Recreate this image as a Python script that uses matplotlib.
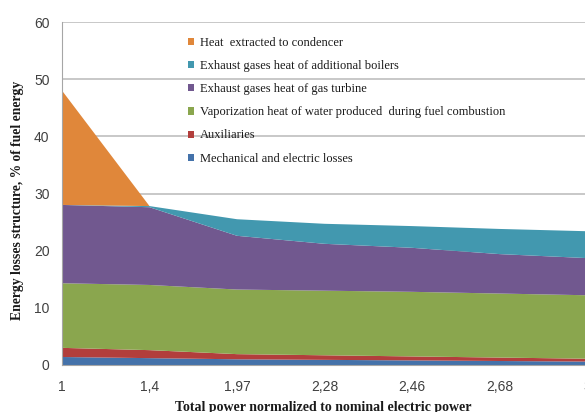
import matplotlib
matplotlib.use("Agg")
import matplotlib.pyplot as plt
from matplotlib.patches import Patch
import numpy as np

categories = ["1", "1,4", "1,97", "2,28", "2,46", "2,68", "3"]
mechanical = [1.4, 1.2, 1.0, 0.9, 0.8, 0.7, 0.6]
auxiliaries = [1.6, 1.4, 0.9, 0.8, 0.7, 0.6, 0.5]
vaporization = [11.3, 11.4, 11.3, 11.3, 11.3, 11.2, 11.1]
gas_turbine = [13.7, 13.6, 9.4, 8.2, 7.7, 6.9, 6.5]
boilers = [0.0, 0.2, 2.9, 3.5, 3.8, 4.4, 4.7]
condenser = [20.0, 0.0, 0.0, 0.0, 0.0, 0.0, 0.0]

labels = ["Mechanical and electric losses", "Auxiliaries",
          "Vaporization heat of water produced  during fuel combustion",
          "Exhaust gases heat of gas turbine",
          "Exhaust gases heat of additional boilers",
          "Heat  extracted to condencer"]
colors = ["#4472AA", "#B23E3C", "#8AA64E", "#71588F", "#4298AF", "#E0873A"]

fig = plt.figure(figsize=(5.85, 4.12), dpi=100)
ax = fig.add_axes([62/585, 47/412, (587-62)/585, (365-22)/412])

x = np.arange(len(categories))
ax.stackplot(x, mechanical, auxiliaries, vaporization, gas_turbine, boilers, condenser,
             colors=colors, zorder=2, linewidth=0)

ax.set_xlim(0, 6)
ax.set_ylim(0, 60)
ax.set_yticks(range(0, 61, 10))
ax.set_xticks(x)
ax.set_xticklabels(categories)
ax.yaxis.grid(True, color="#BFBFBF", linewidth=1.2, zorder=0)
ax.set_axisbelow(True)
for s in ["top", "right"]:
    ax.spines[s].set_visible(False)
ax.spines["left"].set_color("#A6A6A6")
ax.spines["bottom"].set_color("#A6A6A6")
ax.tick_params(length=0, labelsize=10, colors="#404040")
ax.tick_params(axis="x", pad=11)
ax.tick_params(axis="y", pad=9)
for t in ax.get_xticklabels() + ax.get_yticklabels():
    t.set_fontfamily("Liberation Sans")

ax.set_xlabel("Total power normalized to nominal electric power", family="Liberation Serif",
              fontweight="bold", fontsize=10, color="#1a1a1a", va="center")
ax.set_ylabel("Energy losses structure, % of fuel energy", family="Liberation Serif",
              fontweight="bold", fontsize=9.8, color="#1a1a1a", va="center")
ax.xaxis.set_label_coords((323-62)/525, (365-407)/343)
ax.yaxis.set_label_coords((18-62)/525, (365-200)/343)

handles = [Patch(facecolor=c, edgecolor="none") for c in colors[::-1]]
leg = ax.legend(handles, labels[::-1], loc="upper left",
                bbox_to_anchor=(183/585, 1 - 32/412), bbox_transform=fig.transFigure,
                frameon=False, prop={"family": "Liberation Serif", "size": 9},
                handlelength=0.5, handleheight=0.5, handletextpad=0.45,
                labelspacing=0.89, borderaxespad=0)
for t in leg.get_texts():
    t.set_color("#1a1a1a")

fig.savefig("out.png", dpi=100)
